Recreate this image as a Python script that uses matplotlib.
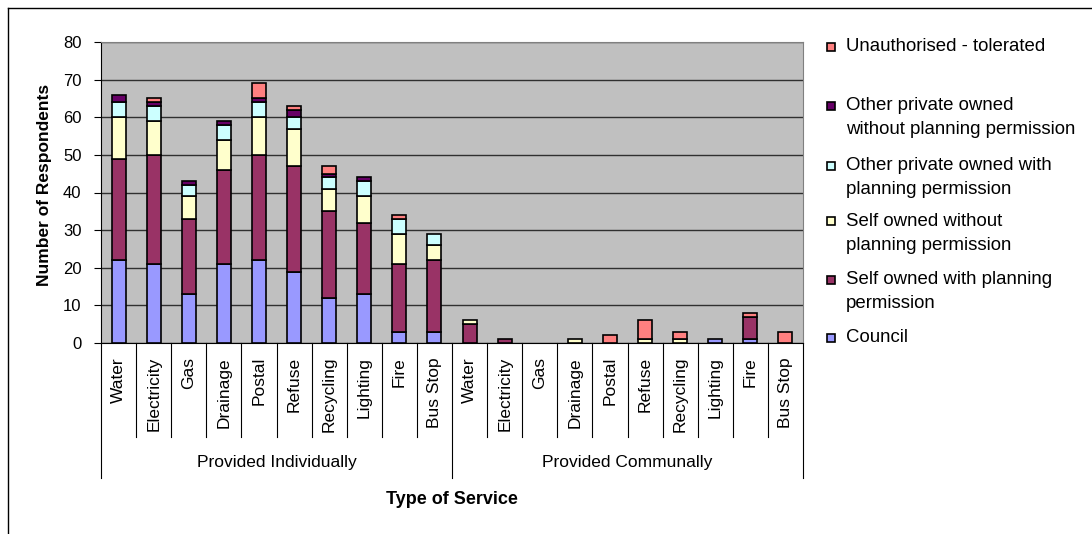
'''
Stacked bar chart of service provision by ownership type
'''

## import packages
import numpy as np
import matplotlib.pyplot as plt
from matplotlib.transforms import blended_transform_factory
from matplotlib.patches import Rectangle
from matplotlib.lines import Line2D

plt.rcParams['font.family'] = ['Liberation Sans', 'DejaVu Sans']

## data (first 10 = individually, last 10 = communally)
services = ['Water', 'Electricity', 'Gas', 'Drainage', 'Postal',
            'Refuse', 'Recycling', 'Lighting', 'Fire', 'Bus Stop']
groups = ['Provided Individually', 'Provided Communally']

council       = [22, 21, 13, 21, 22, 19, 12, 13, 3, 3,   0, 0, 0, 0, 0, 0, 0, 1, 1, 0]
self_with     = [27, 29, 20, 25, 28, 28, 23, 19, 18, 19, 5, 1, 0, 0, 0, 0, 0, 0, 6, 0]
self_without  = [11, 9, 6, 8, 10, 10, 6, 7, 8, 4,     1, 0, 0, 1, 0, 1, 1, 0, 0, 0]
other_with    = [4, 4, 3, 4, 4, 3, 3, 4, 4, 3,        0, 0, 0, 0, 0, 0, 0, 0, 0, 0]
other_without = [2, 1, 1, 1, 1, 2, 1, 1, 0, 0,        0, 0, 0, 0, 0, 0, 0, 0, 0, 0]
unauthorised  = [0, 1, 0, 0, 4, 1, 2, 0, 1, 0,        0, 0, 0, 0, 2, 5, 2, 0, 1, 3]

series = [council, self_with, self_without, other_with, other_without, unauthorised]
labels = ['Council',
          'Self owned with planning\npermission',
          'Self owned without\nplanning permission',
          'Other private owned with\nplanning permission',
          'Other private owned\nwithout planning permission',
          'Unauthorised - tolerated']
colors = ['#9999FF', '#993366', '#FFFFCC', '#CCFFFF', '#660066', '#FF8080']

## figure and axes (pixel layout of the original)
W, H = 1092, 534
fig = plt.figure(figsize=(W / 100, H / 100), dpi=100)
ax = fig.add_axes([101 / W, 1 - 343 / H, 702 / W, 301 / H])
ax.set_facecolor('#C0C0C0')

## stacked bars
x = np.arange(len(services) * 2)
bottom = np.zeros(len(x))
for vals, c in zip(series, colors):
    vals = np.array(vals, dtype=float)
    bars = ax.bar(x, vals, 0.4, bottom=bottom, color=c,
                  edgecolor='black', linewidth=1.2, zorder=3)
    for b, v in zip(bars, vals):
        if v == 0:
            b.set_visible(False)
    bottom += vals

ax.set_xlim(-0.5, len(x) - 0.5)
ax.set_ylim(0, 80)
ax.set_yticks(range(0, 81, 10))
ax.yaxis.grid(True, color='#303030', linewidth=1, zorder=0)
ax.set_axisbelow(True)
ax.tick_params(axis='y', direction='out', length=5, pad=9, labelsize=12)
ax.set_xticks([])
for s in ['top', 'right']:
    ax.spines[s].set_color('#808080')
for s in ['left', 'bottom']:
    ax.spines[s].set_color('black')

## category labels and separators below the axis
trans = blended_transform_factory(ax.transData, ax.transAxes)
for i, name in enumerate(services * 2):
    ax.text(i, -14 / 301, name, rotation=90, ha='center', va='top',
            fontsize=12.5, transform=trans)
for k, b in enumerate(np.arange(-0.5, len(x), 1)):
    ylow = -135 / 301 if k % 10 == 0 else -94 / 301
    ax.plot([b, b], [0, ylow], color='black', linewidth=0.8,
            transform=trans, clip_on=False)
for g, name in enumerate(groups):
    ax.text(4.5 + 10 * g, -120 / 301, name, ha='center', va='center',
            fontsize=12.5, transform=trans)

## axis titles
fig.text(452 / W, 1 - 499 / H, 'Type of Service', ha='center', va='center',
         fontsize=13, fontweight='bold')
fig.text(45 / W, 1 - 185 / H, 'Number of Respondents', ha='center',
         va='center', rotation=90, fontsize=12.5, fontweight='bold')

## legend, drawn like the Excel one (top entry = last series)
legend_y = [46.7, 106, 165.7, 221, 280, 338]
for ypix, lab, c in zip(legend_y, labels[::-1], colors[::-1]):
    fig.add_artist(Rectangle((827 / W, 1 - (ypix + 4) / H), 8 / W, 8 / H,
                             facecolor=c, edgecolor='black', linewidth=1.2,
                             transform=fig.transFigure))
    for k, line in enumerate(lab.split('\n')):
        fig.text(846 / W, 1 - (ypix + 24 * k) / H, line, ha='left',
                 va='center', fontsize=13.4)

## outer chart frame
fig.add_artist(Line2D([8 / W, 1], [1 - 8 / H, 1 - 8 / H], color='black',
                      linewidth=1, transform=fig.transFigure))
fig.add_artist(Line2D([8 / W, 8 / W], [0, 1 - 8 / H], color='black',
                      linewidth=1, transform=fig.transFigure))

fig.savefig('out.png', dpi=100)
